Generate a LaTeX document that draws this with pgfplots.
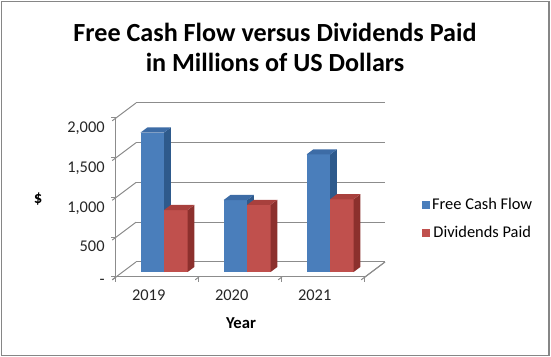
\documentclass[border=0pt]{standalone}
\usepackage{pgfplots}
\pgfplotsset{compat=1.18}
\usepackage{fontspec}
\setmainfont{Carlito}
\definecolor{blueF}{HTML}{4A7EBB}
\definecolor{blueS}{HTML}{2E5A8C}
\definecolor{blueT}{HTML}{3D6CA6}
\definecolor{redF}{HTML}{C0504D}
\definecolor{redS}{HTML}{8C302D}
\definecolor{redT}{HTML}{A8403D}
\definecolor{gridgray}{HTML}{8C8C8C}
\definecolor{framegray}{HTML}{868686}
% one column drawn as three faces: x left, x right, value, colour prefix
\newcommand{\cuboid}[4]{%
  \addplot3[fill=#4F, draw=none, forget plot] coordinates {(#1,0.33,0) (#2,0.33,0) (#2,0.33,#3) (#1,0.33,#3)};
  \addplot3[fill=#4S, draw=none, forget plot] coordinates {(#2,0.33,0) (#2,0.67,0) (#2,0.67,#3) (#2,0.33,#3)};
  \addplot3[fill=#4T, draw=none, forget plot] coordinates {(#1,0.33,#3) (#2,0.33,#3) (#2,0.67,#3) (#1,0.67,#3)};
}
\begin{document}
\begin{tikzpicture}[x=0.75pt,y=0.75pt]
\useasboundingbox (-116,-80) rectangle (435,277);
\draw[framegray, line width=1.1pt] (-114.5,-78.5) rectangle (433,275.5);
\begin{axis}[
  at={(0,0)}, anchor=origin,
  x={(62.25pt,0pt)}, y={(15pt,11.25pt)}, z={(0pt,0.059625pt)},
  xmin=0, xmax=3, ymin=0, ymax=1, zmin=0, zmax=2000,
  axis lines=left,
  axis line style={-, draw=gridgray, line width=0.75pt},
  no markers,
  xtick={0.5,1.5,2.5}, xticklabels={2019,2020,2021},
  major x tick style={draw=none},
  minor xtick={0,1,2,3},
  ytick=\empty,
  ztick={0,500,1000,1500,2000},
  zticklabels={{-\hspace{6pt}},500,{1,000},{1,500},{2,000}},
  zmajorgrids,
  major grid style={draw=gridgray, line width=0.75pt},
  tick style={draw=gridgray, line width=0.75pt},
  tick align=outside,
  major tick length=3.5pt, minor tick length=3.5pt,
  ticklabel style={font=\fontsize{12.3}{14}\selectfont, text=black!85},
  xticklabel style={yshift=-4pt},
  zticklabel style={xshift=-2.2pt},
  clip=false,
  legend style={at={(axis description cs:1.12,0.335)}, anchor=west, draw=none, fill=none,
    font=\fontsize{12.3}{14}\selectfont, row sep=7pt},
  legend image code/.code={\fill[#1] (0pt,-3pt) rectangle (6pt,3pt);},
]
\addlegendimage{fill=blueF, draw=none}
\addlegendentry{Free Cash Flow}
\addlegendimage{fill=redF, draw=none}
\addlegendentry{Dividends Paid}
% floor right edge
\addplot3[draw=gridgray, line width=0.75pt, forget plot] coordinates {(3,0,0) (3,1,0)};
% 2019
\cuboid{0.217}{0.5}{1755}{blue}
\cuboid{0.5}{0.783}{780}{red}
% 2020
\cuboid{1.217}{1.5}{905}{blue}
\cuboid{1.5}{1.783}{845}{red}
% 2021
\cuboid{2.217}{2.5}{1480}{blue}
\cuboid{2.5}{2.783}{915}{red}
\end{axis}
\node[font=\fontsize{19.6}{22.5}\selectfont\bfseries, align=center, anchor=base] at (159,235.3) {Free Cash Flow versus Dividends Paid};
\node[font=\fontsize{19.6}{22.5}\selectfont\bfseries, align=center, anchor=base] at (159,205.3) {in Millions of US Dollars};
\node[font=\fontsize{12.5}{14}\selectfont\bfseries] at (-78,78) {\$};
\node[font=\fontsize{12.5}{14}\selectfont\bfseries] at (125,-46) {Year};
\end{tikzpicture}
\end{document}
